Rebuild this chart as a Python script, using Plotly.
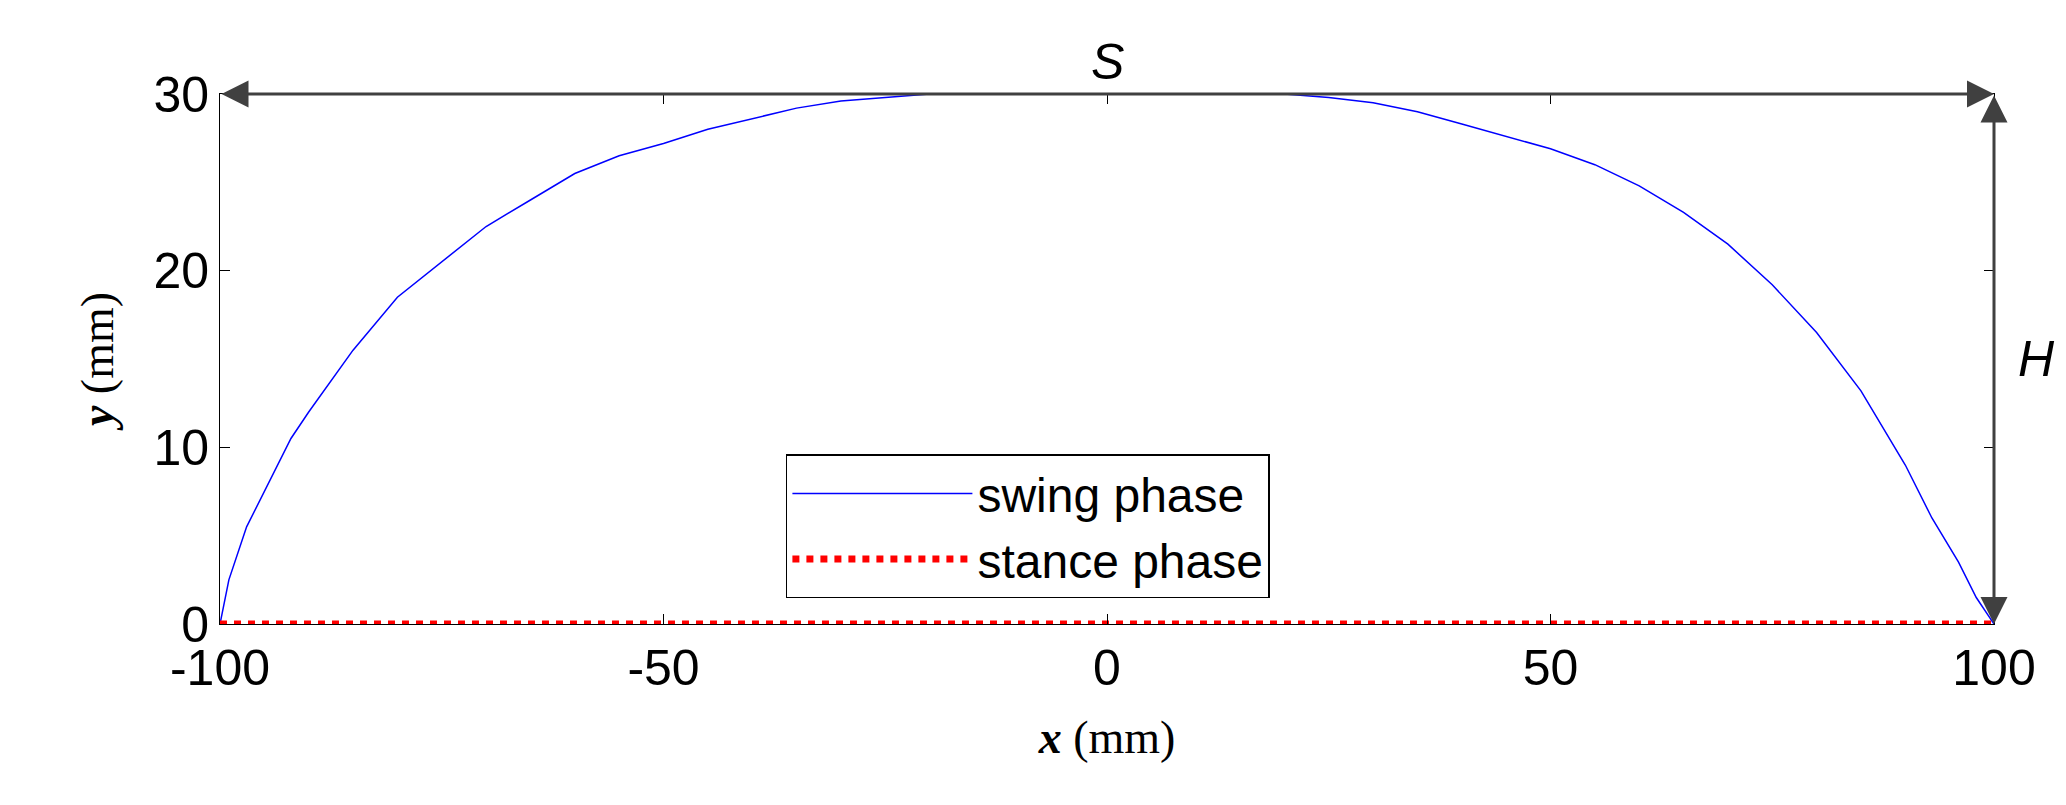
import plotly.graph_objects as go

swing_x = [-100, -99, -97, -95, -92, -90, -85, -80, -75, -70, -65, -60, -55, -50, -45, -40, -35, -30, -25, -20,
           20, 25, 30, 35, 40, 45, 50, 55, 60, 65, 70, 75, 80, 85, 90, 93, 96, 98, 100]
swing_y = [0, 2.5, 5.5, 7.5, 10.5, 12, 15.5, 18.5, 20.5, 22.5, 24, 25.5, 26.5, 27.2, 28, 28.6, 29.2, 29.6, 29.8, 30,
           30, 29.8, 29.5, 29, 28.3, 27.6, 26.9, 26, 24.8, 23.3, 21.5, 19.2, 16.5, 13.2, 9, 6, 3.5, 1.5, 0]
stance_x = [-100, 100]
stance_y = [0, 0]
x_ticks = [-100, -50, 0, 50, 100]
x_ticktext = ["-100", "-50", "0", "50", "100"]
y_ticks = [0, 10, 20, 30]

fig = go.Figure()
fig.add_trace(go.Scatter(x=swing_x, y=swing_y, mode="lines", name="swing phase",
                         line=dict(color="blue", width=1.5)))
fig.add_trace(go.Scatter(x=stance_x, y=stance_y, mode="lines", name="stance phase",
                         line=dict(color="red", width=7, dash="dot")))

arrow = dict(showarrow=True, arrowhead=2, startarrowhead=2, arrowside="end+start",
             arrowcolor="#404040", arrowwidth=3, arrowsize=1.8, startarrowsize=1.8,
             xref="x", yref="y", axref="x", ayref="y", text="")
fig.add_annotation(x=100, y=30, ax=-100, ay=30, **arrow)
fig.add_annotation(x=100, y=0, ax=100, ay=30, **arrow)
fig.add_annotation(x=0, y=30, text="<i>S</i>", showarrow=False, yanchor="bottom", yshift=2,
                   font=dict(size=50, color="black", family="Liberation Sans"))
fig.add_annotation(x=100, y=15, text="<i>H</i>", showarrow=False, xanchor="left", xshift=22,
                   font=dict(size=50, color="black", family="Liberation Sans"))

axis_common = dict(showgrid=False, zeroline=False, showline=True, linecolor="black", linewidth=1,
                   mirror="ticks", ticks="inside", ticklen=10, tickcolor="black",
                   tickfont=dict(size=50, family="Liberation Sans", color="black"))
fig.update_xaxes(range=[-100, 100], tickvals=x_ticks, ticktext=x_ticktext,
                 title=dict(text="<i><b>x</b></i> (mm)", font=dict(size=46, family="Liberation Serif", color="black"), standoff=25),
                 **axis_common)
fig.update_yaxes(range=[0, 30], tickvals=y_ticks,
                 title=dict(text="<i><b>y</b></i> (mm)", font=dict(size=46, family="Liberation Serif", color="black"), standoff=25),
                 **axis_common)

fig.update_layout(width=2066, height=805, plot_bgcolor="white", paper_bgcolor="white",
                  margin=dict(l=212, r=80, t=86, b=189),
                  showlegend=True,
                  legend=dict(x=0.319, y=0.32, xanchor="left", yanchor="top", bordercolor="black", borderwidth=1.5,
                              bgcolor="white", font=dict(size=48, family="Liberation Sans", color="black"),
                              itemwidth=180, tracegroupgap=10),
                  font=dict(family="Liberation Sans"))
fig.write_html("out.html")
